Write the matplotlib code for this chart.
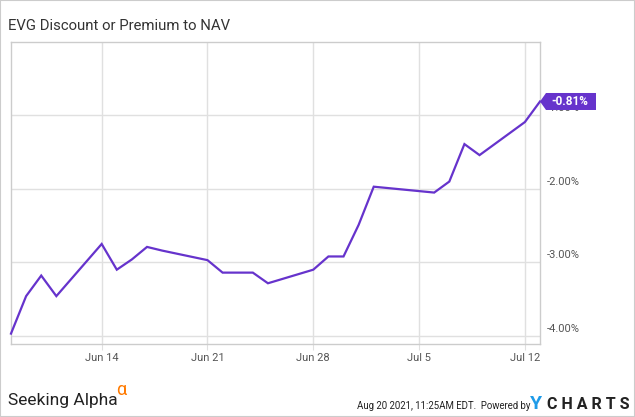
import matplotlib
matplotlib.use("Agg")
import matplotlib.pyplot as plt
import matplotlib.dates as mdates
import matplotlib.transforms as mtrans
from matplotlib.patches import Polygon, Rectangle
import datetime as dt

plt.rcParams['font.family'] = ['Roboto', 'DejaVu Sans']

dates = ["2021-06-08", "2021-06-09", "2021-06-10", "2021-06-11", "2021-06-14",
         "2021-06-15", "2021-06-16", "2021-06-17", "2021-06-18", "2021-06-21",
         "2021-06-22", "2021-06-23", "2021-06-24", "2021-06-25", "2021-06-28",
         "2021-06-29", "2021-06-30", "2021-07-01", "2021-07-02", "2021-07-06",
         "2021-07-07", "2021-07-08", "2021-07-09", "2021-07-12", "2021-07-13"]
values = [-3.97, -3.46, -3.18, -3.46, -2.75,
          -3.10, -2.96, -2.79, -2.84, -2.97,
          -3.14, -3.14, -3.14, -3.285, -3.10,
          -2.92, -2.92, -2.49, -1.97, -2.05,
          -1.90, -1.39, -1.54, -1.09, -0.81]
xtick_dates = ["2021-06-14", "2021-06-21", "2021-06-28", "2021-07-05", "2021-07-12"]
xtick_labels = ["Jun 14", "Jun 21", "Jun 28", "Jul 5", "Jul 12"]
ytick_vals = [-4.0, -3.0, -2.0, -1.0]
ytick_labels = ["-4.00%", "-3.00%", "-2.00%", "-1.00%"]
title = "EVG Discount or Premium to NAV"
last_label = "-0.81%"

x = [dt.datetime.strptime(d, "%Y-%m-%d") for d in dates]
xt = [dt.datetime.strptime(d, "%Y-%m-%d") for d in xtick_dates]

W, H = 635, 417
fig = plt.figure(figsize=(W / 100, H / 100), dpi=100)
fig.patch.set_facecolor("white")

L, R, T, B = 11, 540, 42, 343.5
ax = fig.add_axes([L / W, 1 - B / H, (R - L) / W, (B - T) / H])

purple = "#6633cc"
grid_c = "#e0e0e0"
ax.plot(x, values, color=purple, lw=1.6, solid_joinstyle="miter", zorder=3, clip_on=False)

ax.set_xlim(x[0], x[-1])
ax.set_ylim(-4.105, 0.0)
ax.set_xticks(xt)
ax.set_xticklabels(xtick_labels)
ax.set_yticks(ytick_vals)
ax.set_yticklabels([])
ax.grid(True, color=grid_c, lw=1)
ax.tick_params(axis="x", length=4, color=grid_c, labelsize=8, labelcolor="#555555", pad=3)
ax.tick_params(axis="y", length=0)
for s in ax.spines.values():
    s.set_color("#cccccc")
    s.set_linewidth(1)

ytr = mtrans.offset_copy(ax.get_yaxis_transform(), fig=fig, x=5, y=1.5, units="points")
for v, lab in zip(ytick_vals, ytick_labels):
    ax.text(1.0, v, lab, transform=ytr, ha="left", va="bottom", fontsize=8, color="#555555")

# value tag at last point
fig_tr = fig.transFigure
fig.canvas.draw()
px, py = ax.transData.transform((mdates.date2num(x[-1]), values[-1]))
px, py = px / W, py / H
w_tag, h_tag, tip = 50 / W, 17 / H, 6 / W
poly = Polygon([[px, py], [px + tip, py + h_tag / 2], [px + tip + w_tag, py + h_tag / 2],
                [px + tip + w_tag, py - h_tag / 2], [px + tip, py - h_tag / 2]],
               closed=True, transform=fig_tr, facecolor=purple, edgecolor="none", zorder=5)
fig.patches.append(poly)
fig.text(px + tip + w_tag / 2 - 1 / W, py, last_label, ha="center", va="center", color="white",
         fontsize=8.5, fontweight="bold", zorder=6)

# title
fig.text(8 / W, 1 - 26 / H, title, ha="left", va="center", fontsize=10.7, color="#333333")

# footer
fig.text(8 / W, 1 - 405 / H, "Seeking Alpha", ha="left", va="baseline", fontsize=12.5, color="#222222")
fig.text(116 / W, 1 - 395 / H, "α", ha="left", va="baseline", fontsize=13, color="#ff7a00")
fig.text(357 / W, 1 - 409 / H, "Aug 20 2021, 11:25AM EDT.  Powered by", ha="left", va="baseline",
         fontsize=6.9, color="#222222")
fig.text(530 / W, 1 - 409 / H, "Y", ha="left", va="baseline", fontsize=14, color="#1e9be8", fontweight="bold")
fig.text(547 / W, 1 - 409 / H, "C H A R T S", ha="left", va="baseline", fontsize=11.5, color="#222222",
         fontweight="bold")

fig.patches.append(Rectangle((0, 0), 1, 1, transform=fig_tr, fill=False, edgecolor="#cccccc", lw=1.5))

fig.savefig("out.png", dpi=100)
